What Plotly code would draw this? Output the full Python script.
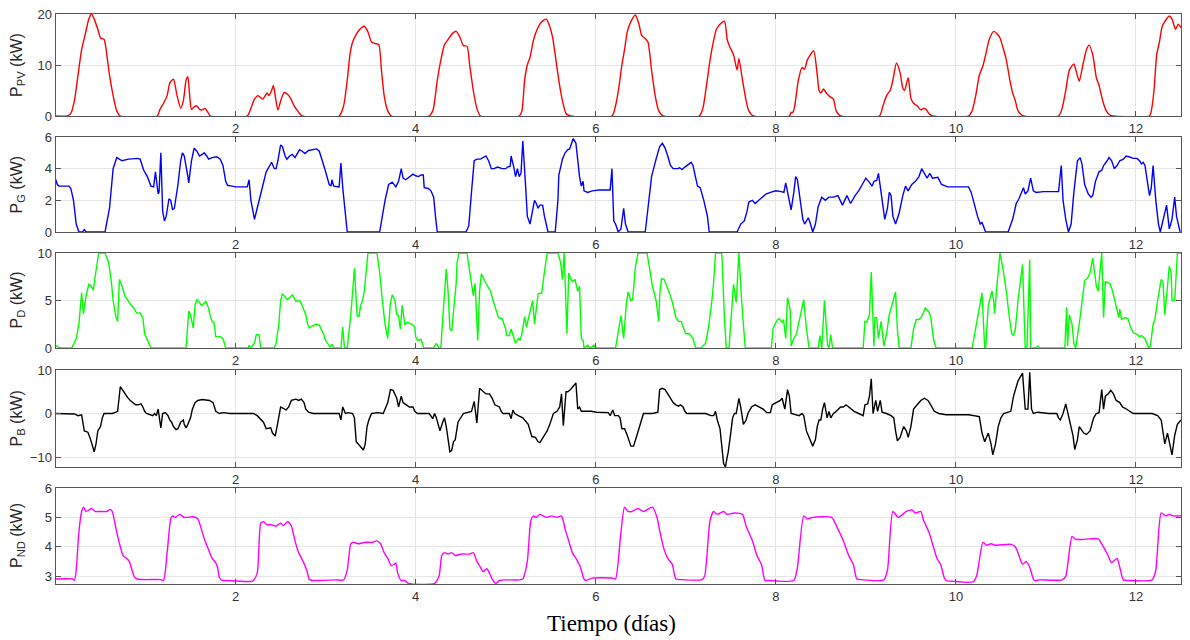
import plotly.graph_objects as go

# ---------------- data (time in days, power in kW) ----------------
pv_points = [
    (0.00, 0), (0.13, 0), (0.17, 0.5), (0.21, 3), (0.25, 8), (0.29, 13), (0.33, 16), (0.37, 19), (0.40, 20),
    (0.43, 19), (0.47, 17), (0.50, 15.3), (0.54, 15), (0.57, 12), (0.60, 8), (0.64, 4), (0.68, 1), (0.72, 0),
    (1.13, 0), (1.16, 1.3), (1.20, 2.5), (1.24, 4), (1.27, 6.5), (1.31, 7.2), (1.35, 4), (1.39, 1.5), (1.42, 3),
    (1.45, 7), (1.47, 7.7), (1.49, 4), (1.51, 1.3), (1.54, 1.8), (1.57, 2), (1.60, 1.3), (1.63, 1.2), (1.66, 1.5),
    (1.69, 0.8), (1.72, 0),
    (2.13, 0), (2.17, 1.5), (2.21, 3.3), (2.25, 4), (2.30, 3.3), (2.35, 4.5), (2.37, 4.0), (2.40, 5.0), (2.42, 6.0),
    (2.44, 4), (2.47, 1.2), (2.51, 3.5), (2.54, 4.6), (2.58, 4.2), (2.61, 3.5), (2.65, 2), (2.69, 1), (2.74, 0),
    (3.15, 0), (3.20, 2), (3.24, 7), (3.27, 12), (3.30, 14.5), (3.34, 16), (3.38, 17), (3.43, 17.6), (3.47, 16.5),
    (3.51, 14.5), (3.55, 14.2), (3.59, 14), (3.62, 9), (3.65, 4), (3.69, 1), (3.73, 0),
    (4.15, 0), (4.19, 1), (4.21, 2.8), (4.24, 7), (4.28, 11), (4.32, 14), (4.36, 15), (4.41, 16.2), (4.45, 16.6),
    (4.49, 15.5), (4.53, 13.8), (4.57, 13.7), (4.60, 10), (4.64, 5), (4.68, 1.5), (4.72, 0),
    (5.15, 0), (5.18, 1), (5.21, 7), (5.24, 10), (5.27, 11.5), (5.31, 15), (5.35, 17), (5.39, 18.3), (5.45, 19),
    (5.49, 17.5), (5.52, 15.5), (5.55, 12), (5.59, 7), (5.63, 3), (5.67, 0.5), (5.72, 0),
    (6.18, 0), (6.22, 2), (6.26, 6), (6.29, 10), (6.32, 13), (6.35, 16.5), (6.39, 18.5), (6.44, 19.8), (6.48, 18),
    (6.51, 15.8), (6.55, 15.2), (6.58, 14.5), (6.62, 9), (6.66, 4), (6.70, 1), (6.75, 0),
    (7.15, 0), (7.19, 1.5), (7.23, 6), (7.27, 11), (7.30, 14), (7.34, 17), (7.38, 18), (7.43, 18.6), (7.46, 15),
    (7.49, 13.5), (7.53, 12), (7.57, 9), (7.59, 11.3), (7.63, 7), (7.67, 3), (7.70, 1), (7.75, 0),
    (8.15, 0), (8.17, 0.7), (8.19, 0.7), (8.21, 2), (8.25, 7), (8.29, 9.5), (8.32, 9.2), (8.35, 11), (8.42, 12.8),
    (8.46, 8), (8.48, 5), (8.50, 4.5), (8.53, 5.3), (8.56, 4.5), (8.60, 3.8), (8.64, 3.3), (8.67, 1), (8.72, 0),
    (9.15, 0), (9.19, 2), (9.23, 4), (9.27, 5), (9.30, 7), (9.34, 10.4), (9.38, 8.5), (9.41, 5.5), (9.43, 5),
    (9.47, 7.5), (9.50, 3.5), (9.53, 2.5), (9.57, 2), (9.61, 1.2), (9.64, 1.5), (9.67, 1.3), (9.70, 0.5), (9.74, 0),
    (10.14, 0), (10.18, 1), (10.22, 4), (10.26, 8), (10.30, 9.8), (10.33, 12), (10.37, 15), (10.42, 16.6),
    (10.46, 16.1), (10.49, 15.3), (10.53, 13), (10.56, 11), (10.60, 7), (10.63, 4.5), (10.66, 3), (10.69, 1),
    (10.75, 0),
    (11.14, 0), (11.18, 1.5), (11.22, 5), (11.26, 9), (11.31, 10.2), (11.34, 8.5), (11.37, 6.8), (11.41, 10),
    (11.45, 13), (11.48, 13.9), (11.52, 12), (11.56, 7.5), (11.59, 6), (11.63, 3), (11.67, 1), (11.71, 0.2),
    (11.75, 0),
    (12.15, 0), (12.17, 1), (12.20, 5), (12.23, 12), (12.26, 14.5), (12.29, 17.5), (12.32, 18.5), (12.37, 19.6),
    (12.40, 19), (12.44, 17), (12.47, 18), (12.50, 17.3),
]

pg_points = [
    (0.00, 3.35), (0.02, 3.0), (0.04, 2.9), (0.15, 2.9), (0.17, 2.75), (0.20, 2.0), (0.23, 0.5), (0.26, 0),
    (0.30, 0), (0.32, 0.15), (0.34, 0), (0.55, 0), (0.60, 1.5), (0.64, 4), (0.68, 4.7), (0.74, 4.5), (0.81, 4.6),
    (0.91, 4.65), (0.94, 4.6), (0.98, 3.9), (1.02, 3.5), (1.06, 2.9), (1.09, 2.85), (1.11, 3.8), (1.14, 2.4),
    (1.15, 2.5), (1.17, 5.0), (1.19, 1.3), (1.21, 0.7), (1.23, 1.0), (1.26, 2.1), (1.28, 2.0), (1.30, 1.4),
    (1.32, 1.5), (1.36, 3.0), (1.39, 4.5), (1.41, 5.0), (1.43, 4.8), (1.47, 3.5), (1.48, 3.1), (1.51, 4.5),
    (1.54, 5.3), (1.57, 5.1), (1.60, 4.8), (1.63, 4.9), (1.65, 5.0), (1.68, 4.8), (1.70, 4.6), (1.74, 4.7),
    (1.79, 4.75), (1.83, 4.6), (1.86, 4.2), (1.89, 3.2), (1.91, 2.95), (1.96, 2.9), (2.00, 2.85), (2.13, 2.85),
    (2.15, 3.3), (2.17, 2.0), (2.19, 1.3), (2.21, 0.8), (2.24, 1.5), (2.26, 2.0), (2.30, 3.0), (2.34, 3.8),
    (2.38, 4.2), (2.40, 4.4), (2.43, 4.0), (2.45, 4.0), (2.47, 4.5), (2.50, 5.5), (2.52, 5.4), (2.55, 4.8),
    (2.57, 4.6), (2.60, 4.8), (2.63, 4.9), (2.66, 4.7), (2.69, 5.0), (2.71, 5.2), (2.74, 5.1), (2.77, 4.95),
    (2.81, 5.15), (2.85, 5.2), (2.90, 5.25), (2.93, 5.1), (2.96, 4.6), (2.99, 4.0), (3.01, 3.6), (3.04, 3.0),
    (3.06, 2.9), (3.07, 3.3), (3.09, 2.9), (3.15, 2.85), (3.17, 4.35), (3.19, 2.8), (3.24, 0), (3.60, 0),
    (3.63, 1.0), (3.66, 2.0), (3.70, 3.0), (3.74, 3.15), (3.78, 2.85), (3.81, 3.2), (3.84, 4.0), (3.86, 3.4),
    (3.89, 3.3), (3.93, 3.5), (3.97, 3.65), (4.00, 3.55), (4.03, 3.5), (4.06, 3.6), (4.085, 3.6), (4.095, 2.8),
    (4.14, 2.75), (4.17, 2.6), (4.20, 2.2), (4.22, 1.0), (4.24, 0), (4.56, 0), (4.59, 0.4), (4.62, 2.5),
    (4.65, 4.5), (4.68, 4.6), (4.72, 4.6), (4.78, 4.8), (4.81, 4.5), (4.84, 4.0), (4.87, 4.0), (4.91, 4.1),
    (4.96, 4.0), (5.00, 4.0), (5.02, 4.1), (5.05, 4.15), (5.06, 4.8), (5.09, 4.1), (5.11, 3.5), (5.13, 4.0),
    (5.15, 3.5), (5.17, 3.7), (5.19, 5.75), (5.22, 3.0), (5.24, 1.0), (5.27, 0.5), (5.29, 1.2), (5.32, 2.0),
    (5.34, 1.8), (5.36, 1.5), (5.38, 1.7), (5.41, 1.7), (5.43, 1.0), (5.47, 0), (5.55, 0), (5.58, 2.0),
    (5.59, 3.6), (5.63, 4.6), (5.66, 5.0), (5.69, 5.2), (5.71, 5.25), (5.73, 5.6), (5.75, 5.9), (5.78, 5.6),
    (5.80, 4.5), (5.82, 3.5), (5.84, 2.9), (5.86, 3.2), (5.87, 2.6), (5.91, 2.5), (5.96, 2.6), (6.04, 2.65),
    (6.16, 2.65), (6.18, 4.0), (6.20, 0.7), (6.22, 0.5), (6.25, 0), (6.28, 0.2), (6.31, 1.5), (6.33, 0.5),
    (6.36, 0), (6.55, 0), (6.58, 1.5), (6.62, 3.5), (6.67, 4.6), (6.71, 5.4), (6.74, 5.6), (6.77, 5.3),
    (6.80, 4.8), (6.83, 4.2), (6.86, 4.0), (6.91, 4.0), (6.93, 4.05), (6.96, 3.95), (6.99, 4.1), (7.03, 4.3),
    (7.06, 4.4), (7.08, 4.2), (7.10, 3.7), (7.13, 2.9), (7.16, 2.8), (7.20, 2.0), (7.24, 1.0), (7.26, 0),
    (7.57, 0), (7.61, 0.5), (7.65, 0.7), (7.68, 1.3), (7.70, 1.9), (7.74, 2.0), (7.77, 1.8), (7.81, 2.0),
    (7.85, 2.2), (7.89, 2.4), (7.94, 2.5), (8.00, 2.6), (8.06, 2.55), (8.09, 2.5), (8.11, 3.1), (8.14, 2.3),
    (8.15, 2.1), (8.17, 1.4), (8.20, 2.5), (8.22, 3.5), (8.24, 3.3), (8.27, 2.0), (8.30, 0.8), (8.32, 0.5),
    (8.36, 0.9), (8.38, 0.6), (8.41, 0), (8.44, 0.5), (8.47, 1.6), (8.51, 2.2), (8.55, 2.0), (8.59, 2.2),
    (8.64, 2.2), (8.69, 2.3), (8.74, 1.7), (8.79, 2.3), (8.83, 1.8), (8.88, 2.3), (8.92, 2.6), (8.96, 3.0),
    (9.00, 3.4), (9.03, 3.2), (9.07, 2.9), (9.09, 3.2), (9.12, 3.25), (9.14, 3.7), (9.17, 2.5), (9.21, 0.8),
    (9.24, 1.5), (9.26, 2.5), (9.28, 2.3), (9.30, 1.0), (9.33, 0.5), (9.37, 1.2), (9.41, 2.3), (9.44, 2.9),
    (9.47, 2.6), (9.51, 3.0), (9.55, 3.2), (9.59, 3.5), (9.62, 4.0), (9.65, 3.7), (9.68, 3.4), (9.71, 3.7),
    (9.74, 3.4), (9.80, 3.45), (9.84, 3.0), (9.91, 2.85), (10.14, 2.85), (10.17, 2.5), (10.20, 1.8),
    (10.24, 1.0), (10.27, 0.5), (10.29, 0.6), (10.33, 0), (10.58, 0), (10.63, 0.8), (10.67, 1.8), (10.70, 2.1),
    (10.73, 2.5), (10.75, 2.8), (10.77, 2.4), (10.80, 2.6), (10.83, 3.4), (10.86, 2.6), (10.89, 2.5),
    (10.97, 2.55), (11.14, 2.55), (11.17, 4.2), (11.19, 2.0), (11.22, 0.8), (11.25, 0), (11.28, 0.5),
    (11.31, 2.5), (11.35, 4.5), (11.38, 4.7), (11.40, 4.3), (11.43, 3.0), (11.47, 2.4), (11.50, 2.2),
    (11.52, 2.3), (11.55, 3.2), (11.59, 3.8), (11.62, 3.9), (11.64, 4.2), (11.68, 4.5), (11.70, 4.7),
    (11.73, 4.5), (11.76, 4.0), (11.79, 4.2), (11.82, 4.5), (11.86, 4.6), (11.89, 4.8), (11.92, 4.75),
    (11.97, 4.65), (12.01, 4.65), (12.04, 4.5), (12.06, 4.3), (12.08, 4.4), (12.10, 4.2), (12.12, 3.5),
    (12.15, 2.3), (12.17, 2.8), (12.19, 4.2), (12.22, 2.0), (12.25, 0.5), (12.27, 0), (12.31, 1.0),
    (12.34, 1.7), (12.37, 0.2), (12.40, 0.8), (12.43, 2.2), (12.45, 1.0), (12.49, 0),
]

pd_points = [
    (0.00, 0.3), (0.03, 0.1), (0.06, 0), (0.18, 0), (0.23, 1), (0.26, 2.5), (0.29, 5.8), (0.31, 3.6),
    (0.34, 5.5), (0.37, 6.7), (0.39, 6.6), (0.42, 6.1), (0.44, 7.5), (0.46, 9), (0.48, 10), (0.55, 10),
    (0.59, 9), (0.62, 7), (0.64, 5), (0.67, 3.3), (0.69, 2.8), (0.71, 7.2), (0.74, 6.5), (0.77, 5.5),
    (0.81, 4.9), (0.84, 4.5), (0.87, 4.2), (0.90, 3.7), (0.94, 3.7), (0.97, 3.2), (0.99, 1.5), (1.02, 0.8),
    (1.06, 0), (1.45, 0), (1.48, 3.9), (1.50, 3.5), (1.53, 2.1), (1.55, 4.5), (1.57, 5.1), (1.60, 4.8),
    (1.62, 4.5), (1.65, 4.7), (1.67, 4.9), (1.70, 4.2), (1.72, 3.3), (1.74, 2.8), (1.76, 2.7), (1.78, 1.2),
    (1.83, 1.2), (1.86, 1.0), (1.89, 0), (2.14, 0), (2.15, 0.3), (2.17, 0), (2.21, 0.5), (2.23, 1.4),
    (2.26, 1.4), (2.28, 0), (2.43, 0), (2.45, 0.5), (2.48, 2.5), (2.50, 5.0), (2.52, 5.7), (2.55, 5.4),
    (2.57, 5.1), (2.60, 5.3), (2.63, 5.6), (2.65, 5.3), (2.67, 4.9), (2.71, 5.0), (2.72, 4.9), (2.75, 4.2),
    (2.78, 3.5), (2.80, 2.5), (2.82, 2.1), (2.85, 2.3), (2.89, 2.5), (2.93, 2.4), (2.95, 2.0), (2.98, 1.4),
    (3.00, 0.8), (3.03, 0.3), (3.05, 0.1), (3.07, 0.4), (3.09, 0), (3.17, 0), (3.19, 2.2), (3.21, 0),
    (3.24, 0), (3.28, 3.5), (3.32, 8.4), (3.35, 3.4), (3.37, 3.3), (3.39, 4.5), (3.41, 5.0), (3.43, 6.0),
    (3.47, 10), (3.57, 10), (3.60, 8), (3.63, 5), (3.66, 2.5), (3.69, 1.0), (3.72, 4.8), (3.74, 5.6),
    (3.77, 5.0), (3.79, 3.5), (3.81, 3.4), (3.83, 2.0), (3.85, 4.5), (3.88, 2.5), (3.91, 2.7), (3.96, 2.5),
    (3.99, 2.2), (4.00, 1.2), (4.02, 0.8), (4.06, 0.9), (4.09, 0), (4.20, 0), (4.23, 0.5), (4.26, 0),
    (4.28, 0), (4.30, 3.0), (4.34, 8.3), (4.36, 6.0), (4.38, 2.0), (4.40, 1.8), (4.43, 5.0), (4.45, 6.8),
    (4.46, 9.0), (4.48, 10), (4.57, 10), (4.60, 8), (4.64, 5.5), (4.66, 6.8), (4.69, 0.8), (4.71, 6.0),
    (4.73, 7.8), (4.77, 7.0), (4.80, 6.5), (4.83, 6.0), (4.86, 5.0), (4.89, 4.0), (4.92, 3.2), (4.96, 3.1),
    (4.98, 2.6), (5.00, 2.0), (5.01, 1.3), (5.04, 1.3), (5.06, 2.0), (5.09, 1.0), (5.11, 0.5), (5.14, 1.0),
    (5.16, 0.8), (5.18, 1.5), (5.21, 3.3), (5.23, 2.2), (5.27, 4.0), (5.30, 5.0), (5.32, 2.5), (5.34, 4.5),
    (5.36, 5.7), (5.40, 5.8), (5.42, 7.0), (5.43, 8.0), (5.46, 10), (5.58, 10), (5.61, 9), (5.63, 7.2),
    (5.65, 10), (5.68, 1.5), (5.70, 7.9), (5.72, 7.3), (5.74, 7.0), (5.77, 7.2), (5.80, 6.0), (5.82, 6.5),
    (5.84, 1.0), (5.86, 0.8), (5.87, 0), (5.91, 0.3), (5.94, 0), (5.98, 0.3), (6.00, 0), (6.22, 0),
    (6.28, 3.4), (6.31, 1.0), (6.34, 4.7), (6.36, 5.9), (6.39, 5.0), (6.41, 5.1), (6.44, 8.5), (6.47, 10),
    (6.57, 10), (6.60, 8), (6.63, 6.5), (6.67, 5.0), (6.70, 2.8), (6.71, 5.5), (6.73, 7.3), (6.76, 7.2),
    (6.79, 6.5), (6.83, 5.5), (6.86, 4.5), (6.89, 3.2), (6.92, 2.8), (6.95, 2.8), (6.97, 2.2), (7.00, 1.5),
    (7.04, 1.5), (7.08, 1.0), (7.11, 0), (7.17, 0), (7.22, 0.5), (7.25, 2.0), (7.29, 5.0), (7.31, 7.0),
    (7.33, 10), (7.40, 10), (7.43, 3.0), (7.45, 0), (7.48, 0), (7.51, 4.0), (7.53, 6.7), (7.56, 4.8),
    (7.59, 10), (7.62, 5.0), (7.65, 0.5), (7.66, 0), (7.95, 0), (7.97, 2.1), (7.99, 2.5), (8.02, 3.0),
    (8.04, 3.1), (8.07, 2.7), (8.085, 3.0), (8.11, 1.0), (8.13, 5.3), (8.16, 4.0), (8.17, 0.2), (8.20, 1.0),
    (8.23, 1.5), (8.26, 3.0), (8.29, 4.2), (8.31, 5.1), (8.34, 2.0), (8.37, 0), (8.47, 0), (8.49, 1.3),
    (8.51, 0), (8.54, 5.0), (8.575, 0.3), (8.59, 0), (8.61, 1.4), (8.63, 0), (8.97, 0), (8.99, 2.8),
    (9.01, 2.7), (9.04, 3.5), (9.06, 8.0), (9.09, 0.2), (9.10, 3.2), (9.12, 3.2), (9.14, 1.0), (9.17, 2.8),
    (9.20, 0.2), (9.23, 1.5), (9.26, 3.5), (9.30, 5.0), (9.33, 5.9), (9.35, 2.0), (9.37, 0), (9.50, 0),
    (9.53, 2.0), (9.56, 3.0), (9.59, 3.0), (9.62, 3.3), (9.66, 4.2), (9.70, 3.8), (9.72, 3.3), (9.75, 1.0),
    (9.78, 0), (10.18, 0), (10.22, 2.0), (10.29, 5.8), (10.32, 0), (10.33, 0), (10.36, 4.5), (10.40, 6.0),
    (10.42, 5.0), (10.43, 3.6), (10.46, 7.0), (10.49, 10), (10.52, 8.5), (10.56, 6.0), (10.59, 3.5),
    (10.62, 1.5), (10.64, 1.3), (10.66, 2.0), (10.69, 5.0), (10.74, 8.8), (10.77, 0), (10.79, 0.2),
    (10.82, 9.3), (10.83, 0), (10.89, 0), (10.91, 0.2), (10.93, 0), (11.21, 0), (11.23, 4.3), (11.24, 0.2),
    (11.26, 3.5), (11.29, 2.5), (11.31, 0.5), (11.33, 0), (11.37, 2.5), (11.40, 5.0), (11.43, 7.1),
    (11.46, 7.3), (11.49, 7.9), (11.52, 9.5), (11.56, 6.5), (11.58, 6.0), (11.62, 10), (11.64, 3.2),
    (11.66, 7.0), (11.71, 6.8), (11.74, 6.0), (11.77, 4.8), (11.81, 3.2), (11.82, 4.1), (11.84, 3.0),
    (11.88, 3.2), (11.91, 3.1), (11.94, 2.2), (11.97, 1.6), (12.00, 1.5), (12.04, 1.2), (12.06, 1.3),
    (12.10, 1.0), (12.14, 0), (12.16, 0.2), (12.19, 2.5), (12.21, 3.0), (12.24, 5.0), (12.28, 7.2),
    (12.30, 7.0), (12.32, 3.5), (12.35, 6.5), (12.37, 8.6), (12.39, 8.0), (12.40, 5.0), (12.43, 5.0),
    (12.46, 10), (12.50, 10),
]

pb_points = [
    (0.00, 0), (0.14, 0), (0.21, -0.1), (0.25, -0.5), (0.29, -0.3), (0.32, -4), (0.36, -4.3), (0.39, -6),
    (0.43, -8.8), (0.45, -7), (0.47, -4), (0.50, -3), (0.52, -1), (0.54, 0), (0.63, 0), (0.67, 0.3),
    (0.69, 0.5), (0.72, 6.2), (0.74, 5.5), (0.77, 4.5), (0.80, 3.7), (0.83, 3.0), (0.86, 2.5), (0.89, 2.0),
    (0.92, 2.0), (0.95, 2.2), (0.97, 1.5), (0.99, 0.5), (1.01, 0), (1.08, -0.5), (1.10, 0), (1.12, -0.5),
    (1.14, 1.0), (1.17, -3.3), (1.19, 0), (1.22, 0.2), (1.25, -0.5), (1.27, -1.5), (1.29, -2.0), (1.31, -3.0),
    (1.34, -3.7), (1.36, -3.5), (1.39, -2.0), (1.42, -1.5), (1.43, -2.5), (1.45, -3.3), (1.47, -2.5),
    (1.50, -1.0), (1.52, 1.0), (1.55, 2.5), (1.58, 3.0), (1.63, 3.2), (1.67, 3.1), (1.71, 3.0), (1.75, 2.5),
    (1.78, 0.5), (1.82, 0), (1.86, 0.2), (1.94, 0), (2.20, 0), (2.24, -0.5), (2.28, -1.5), (2.31, -2.0),
    (2.34, -3.5), (2.39, -3.3), (2.41, -4.5), (2.44, -5.2), (2.47, -2.0), (2.50, 1.5), (2.53, 1.2),
    (2.56, 0.8), (2.59, 1.5), (2.62, 3.0), (2.67, 3.3), (2.70, 3.0), (2.73, 3.3), (2.76, 2.5), (2.78, 1.0),
    (2.81, 0.3), (2.86, 0), (3.15, 0), (3.17, -1.5), (3.19, 1.5), (3.22, 0), (3.25, 0.2), (3.30, 0),
    (3.32, -1.0), (3.34, -6.5), (3.37, -7.2), (3.40, -8.0), (3.42, -8.4), (3.44, -7.0), (3.46, -3.0),
    (3.48, -1.5), (3.51, 0), (3.58, 0.2), (3.64, 0), (3.69, 2.5), (3.72, 5.5), (3.75, 5.3), (3.77, 4.5),
    (3.79, 3.5), (3.81, 1.5), (3.84, 4.0), (3.86, 2.5), (3.89, 2.0), (3.93, 1.5), (3.97, 1.5), (3.99, 0.5),
    (4.02, 0), (4.15, 0), (4.19, -1.2), (4.21, 0), (4.23, -1.0), (4.27, -4.0), (4.30, -2.0), (4.32, -1.0),
    (4.34, -3.0), (4.36, -6.0), (4.38, -8.8), (4.40, -8.5), (4.42, -6.5), (4.44, -6.0), (4.47, -2.0),
    (4.53, 0), (4.59, 0.3), (4.62, 0.5), (4.65, 2.8), (4.67, 0), (4.68, -2.2), (4.71, 5.8), (4.74, 5.3),
    (4.78, 4.5), (4.82, 4.5), (4.85, 3.5), (4.88, 2.0), (4.91, 1.8), (4.93, 1.5), (4.95, 0.5), (4.97, 0),
    (5.04, 0), (5.06, -1.2), (5.08, 0.8), (5.10, 0), (5.14, -0.5), (5.19, -1.0), (5.25, -2.5), (5.29, -5.3),
    (5.33, -5.5), (5.36, -6.5), (5.38, -6.7), (5.42, -5.5), (5.46, -4.0), (5.49, -2.5), (5.53, 0), (5.57, 0.5),
    (5.60, 1.5), (5.62, 4.5), (5.64, -2.8), (5.67, 5.0), (5.69, 5.0), (5.72, 5.5), (5.74, 6.0), (5.76, 6.3),
    (5.78, 7.0), (5.80, 1.0), (5.82, 1.5), (5.84, 0.5), (5.95, 0.5), (6.01, 0.3), (6.14, 0.2), (6.16, -0.5),
    (6.19, 0.8), (6.21, -0.5), (6.25, -0.5), (6.27, -1.0), (6.29, -3.5), (6.32, -3.5), (6.35, -5.0),
    (6.39, -7.5), (6.42, -7.5), (6.45, -5.5), (6.48, -3.5), (6.51, -1.5), (6.53, 0), (6.63, 0), (6.69, 0.3),
    (6.71, 5.5), (6.74, 5.8), (6.77, 5.5), (6.80, 4.5), (6.83, 3.5), (6.86, 2.5), (6.89, 2.0), (6.92, 1.7),
    (6.94, 2.0), (6.97, 1.5), (6.99, 0.5), (7.01, 0), (7.22, 0), (7.28, -0.5), (7.31, -0.5), (7.33, 0.5),
    (7.35, -1.5), (7.38, -3.5), (7.42, -11.5), (7.44, -12.3), (7.46, -10), (7.47, -9), (7.49, -6),
    (7.52, -1), (7.54, 0), (7.56, 0), (7.59, 3.5), (7.61, 1.5), (7.64, -2.5), (7.67, -1.5), (7.69, 0),
    (7.73, 1.5), (7.77, 2.0), (7.81, 1.5), (7.86, 1.0), (7.90, 0.2), (7.94, 0.2), (7.96, 2.0), (8.00, 2.5),
    (8.05, 3.0), (8.07, 3.5), (8.10, 1.0), (8.13, 5.5), (8.15, 4.0), (8.17, 0), (8.21, -0.3), (8.26, -0.5),
    (8.29, 0), (8.31, -0.5), (8.34, -4.0), (8.37, -5.5), (8.41, -7.5), (8.44, -6.0), (8.46, -3.0),
    (8.48, -1.5), (8.50, -1.5), (8.52, 1.0), (8.54, 2.5), (8.57, -1.0), (8.59, 0.5), (8.61, -1.0), (8.64, 0),
    (8.66, 0.3), (8.69, 1.0), (8.72, 1.5), (8.75, 1.5), (8.78, 2.0), (8.81, 1.5), (8.84, 1.0), (8.87, 0.5),
    (8.92, 0), (8.97, -0.5), (8.99, 2.0), (9.02, 2.2), (9.04, 4.0), (9.06, 8.0), (9.08, 0), (9.11, 3.0),
    (9.13, 0.5), (9.16, 3.0), (9.18, 0.3), (9.23, 0), (9.28, -0.5), (9.31, -1.0), (9.33, -4.0), (9.35, -6.3),
    (9.38, -5.5), (9.42, -3.0), (9.45, -4.0), (9.47, -5.5), (9.50, -3.0), (9.53, 1.0), (9.57, 2.0),
    (9.61, 3.0), (9.65, 3.5), (9.69, 3.0), (9.72, 2.0), (9.76, 0.5), (9.81, 0), (9.89, -0.3), (10.14, -0.3),
    (10.23, -0.5), (10.26, -0.7), (10.29, -4.5), (10.32, -6.5), (10.36, -4.5), (10.39, -7.0), (10.41, -9.5),
    (10.44, -7.0), (10.47, -3.0), (10.50, -1.0), (10.53, 0), (10.57, 0.3), (10.61, 0.5), (10.64, 4.0),
    (10.69, 7.5), (10.74, 9.3), (10.77, 1.0), (10.80, 1.0), (10.82, 9.5), (10.84, 1.0), (10.86, 0),
    (10.91, 0.3), (11.03, 0), (11.12, 0), (11.14, -1.0), (11.16, -1.5), (11.19, 0), (11.22, 2.2),
    (11.25, -0.5), (11.27, -2.0), (11.30, -5.0), (11.32, -8.3), (11.35, -6.0), (11.37, -3.0), (11.42, -4.5),
    (11.45, -4.8), (11.49, -4.0), (11.53, -1.0), (11.56, 0), (11.59, 0.2), (11.62, 5.5), (11.64, 1.0),
    (11.66, 4.0), (11.69, 4.5), (11.72, 5.3), (11.75, 4.5), (11.78, 3.0), (11.82, 2.5), (11.85, 1.5),
    (11.88, 1.2), (11.93, 0.5), (11.97, 0), (12.18, 0), (12.24, -0.5), (12.28, -1.5), (12.32, -7.0),
    (12.35, -4.5), (12.40, -9.5), (12.43, -5.0), (12.46, -2.5), (12.50, -1.5),
]

pnd_points = [
    (0.00, 2.9), (0.19, 2.9), (0.21, 2.85), (0.23, 3.2), (0.26, 4.5), (0.29, 5.2), (0.31, 5.35), (0.34, 5.2),
    (0.37, 5.25), (0.40, 5.3), (0.44, 5.2), (0.49, 5.2), (0.57, 5.2), (0.61, 5.27), (0.63, 5.2), (0.66, 4.8),
    (0.68, 4.5), (0.72, 4.0), (0.75, 3.7), (0.79, 3.6), (0.82, 3.5), (0.85, 3.2), (0.88, 2.95), (0.91, 2.9),
    (1.00, 2.88), (1.17, 2.88), (1.20, 2.85), (1.24, 3.8), (1.28, 4.95), (1.30, 5.05), (1.33, 5.0),
    (1.38, 5.1), (1.43, 5.0), (1.46, 5.0), (1.53, 5.02), (1.58, 4.95), (1.62, 4.6), (1.66, 4.2), (1.70, 3.9),
    (1.74, 3.6), (1.78, 3.45), (1.80, 3.3), (1.82, 2.95), (1.85, 2.85), (1.91, 2.85), (2.02, 2.83),
    (2.19, 2.83), (2.24, 3.1), (2.28, 4.8), (2.31, 4.85), (2.35, 4.75), (2.40, 4.75), (2.45, 4.7), (2.50, 4.8),
    (2.53, 4.72), (2.58, 4.85), (2.62, 4.7), (2.66, 4.2), (2.70, 3.8), (2.75, 3.5), (2.79, 3.2), (2.82, 2.88),
    (2.86, 2.85), (3.11, 2.87), (3.20, 2.87), (3.24, 3.2), (3.28, 4.1), (3.31, 4.15), (3.36, 4.1),
    (3.44, 4.15), (3.52, 4.15), (3.57, 4.2), (3.61, 4.1), (3.65, 3.8), (3.69, 3.6), (3.73, 3.35), (3.76, 3.4),
    (3.78, 3.45), (3.80, 3.1), (3.84, 2.85), (3.88, 2.85), (3.92, 2.75), (4.21, 2.75), (4.26, 3.0),
    (4.29, 3.7), (4.32, 3.8), (4.36, 3.75), (4.40, 3.8), (4.44, 3.7), (4.51, 3.75), (4.60, 3.75), (4.64, 3.8),
    (4.68, 3.5), (4.72, 3.3), (4.75, 3.15), (4.79, 3.25), (4.82, 3.1), (4.85, 2.9), (4.89, 2.75), (4.93, 2.85),
    (5.00, 2.87), (5.15, 2.87), (5.19, 2.9), (5.24, 3.5), (5.28, 4.9), (5.31, 5.05), (5.34, 5.0), (5.38, 5.1),
    (5.45, 5.0), (5.51, 5.05), (5.57, 5.0), (5.62, 5.05), (5.66, 4.6), (5.70, 4.2), (5.74, 3.8), (5.79, 3.55),
    (5.83, 3.3), (5.87, 2.9), (5.89, 2.85), (5.96, 2.93), (6.19, 2.93), (6.22, 2.9), (6.28, 4.5),
    (6.32, 5.35), (6.36, 5.2), (6.40, 5.2), (6.47, 5.3), (6.53, 5.2), (6.63, 5.35), (6.68, 5.0), (6.72, 4.4),
    (6.76, 3.9), (6.80, 3.6), (6.85, 3.4), (6.89, 2.9), (6.95, 2.88), (7.18, 2.88), (7.21, 3.0), (7.27, 4.9),
    (7.31, 5.2), (7.35, 5.1), (7.42, 5.2), (7.46, 5.1), (7.54, 5.15), (7.63, 5.1), (7.67, 4.7), (7.74, 4.2),
    (7.79, 3.7), (7.84, 3.4), (7.88, 2.85), (7.93, 2.85), (8.01, 2.83), (8.20, 2.85), (8.24, 3.3),
    (8.31, 5.05), (8.35, 4.95), (8.41, 5.0), (8.50, 5.02), (8.62, 5.0), (8.69, 4.6), (8.75, 4.2), (8.81, 3.7),
    (8.86, 3.4), (8.90, 2.9), (8.94, 2.88), (9.20, 2.87), (9.24, 3.2), (9.30, 5.2), (9.36, 5.0), (9.45, 5.2),
    (9.51, 5.25), (9.55, 5.15), (9.61, 5.2), (9.64, 4.9), (9.70, 4.5), (9.75, 4.0), (9.79, 3.6), (9.83, 3.4),
    (9.87, 2.95), (9.89, 2.85), (9.97, 2.82), (10.19, 2.8), (10.23, 3.0), (10.30, 4.15), (10.34, 4.05),
    (10.39, 4.1), (10.44, 4.05), (10.61, 4.08), (10.66, 4.0), (10.70, 3.7), (10.74, 3.4), (10.78, 3.5),
    (10.82, 3.3), (10.87, 2.85), (10.93, 2.87), (11.18, 2.87), (11.22, 3.0), (11.29, 4.35), (11.33, 4.25),
    (11.41, 4.25), (11.58, 4.27), (11.62, 4.1), (11.69, 3.7), (11.73, 3.45), (11.79, 3.6), (11.82, 3.3),
    (11.86, 2.87), (11.92, 2.85), (12.18, 2.87), (12.22, 3.2), (12.28, 5.15), (12.33, 5.05), (12.37, 5.1),
    (12.41, 5.05), (12.50, 5.05),
]

x_ticks = [2, 4, 6, 8, 10, 12]
y_titles = ["P<sub>PV</sub> (kW)", "P<sub>G</sub> (kW)", "P<sub>D</sub> (kW)", "P<sub>B</sub> (kW)", "P<sub>ND</sub> (kW)"]
y_ticks = [[0, 10, 20], [0, 2, 4, 6], [0, 5, 10], [-10, 0, 10], [3, 4, 5, 6]]
y_ranges = [[0, 20], [0, 6], [0, 10], [-12.3, 10], [2.73, 6]]
x_title = "Tiempo (días)"

# ---------------- figure ----------------
W, H = 1190, 640
OFF = 8  # page body margin offset of the embedded figure
series = [pv_points, pg_points, pd_points, pb_points, pnd_points]
colors = ["#ff0000", "#0000ff", "#00ff00", "#000000", "#ff00ff"]
shapes = ["spline", "linear", "linear", "linear", "spline"]
rows_px = [(14, 116), (137, 232), (253, 348), (370, 467), (488, 584)]
x_dom = [(55.5 - OFF) / W, (1181 - OFF) / W]

fig = go.Figure()
axis_col = "#555555"
grid_col = "#e6e6e6"
tick_font = dict(family="Liberation Sans, Arial, sans-serif", size=13, color="#333333")

for i, pts in enumerate(series):
    n = i + 1
    xs = [p[0] for p in pts]
    ys = [p[1] for p in pts]
    fig.add_trace(go.Scatter(
        x=xs, y=ys, mode="lines",
        line=dict(color=colors[i], width=1.4, shape=shapes[i], smoothing=0.6),
        xaxis="x" if n == 1 else f"x{n}", yaxis="y" if n == 1 else f"y{n}",
        hoverinfo="skip", showlegend=False,
    ))
    top, bot = rows_px[i]
    ydom = [1 - (bot - OFF) / H, 1 - (top - OFF) / H]
    common = dict(ticks="inside", ticklen=5, tickcolor=axis_col, showline=True, linecolor=axis_col,
                  linewidth=1, mirror="ticks", showgrid=True, gridcolor=grid_col, zeroline=False,
                  tickfont=tick_font, automargin=False, ticklabeloverflow="allow")
    xa = dict(domain=x_dom, range=[0, 12.5], tickvals=x_ticks,
              anchor="y" if n == 1 else f"y{n}", **common)
    ya = dict(domain=ydom, range=y_ranges[i], tickvals=y_ticks[i],
              anchor="x" if n == 1 else f"x{n}", **common)
    fig.layout["xaxis" if n == 1 else f"xaxis{n}"] = xa
    fig.layout["yaxis" if n == 1 else f"yaxis{n}"] = ya
    fig.add_annotation(text=y_titles[i], xref="paper", yref="paper",
                       x=(17 - OFF) / W, y=(ydom[0] + ydom[1]) / 2, xanchor="center", yanchor="middle",
                       textangle=-90, showarrow=False,
                       font=dict(family="Liberation Sans, Arial, sans-serif", size=16, color="#262626"))

fig.add_annotation(text=x_title, xref="paper", yref="paper", x=(611 - OFF) / W, y=1 - (623 - OFF) / H,
                   xanchor="center", yanchor="middle", showarrow=False,
                   font=dict(family="Liberation Serif, Times New Roman, serif", size=23, color="#000000"))

fig.update_layout(width=W, height=H, margin=dict(l=0, r=0, t=0, b=0, pad=0),
                  plot_bgcolor="white", paper_bgcolor="white", showlegend=False)

fig.write_html("out.html")
